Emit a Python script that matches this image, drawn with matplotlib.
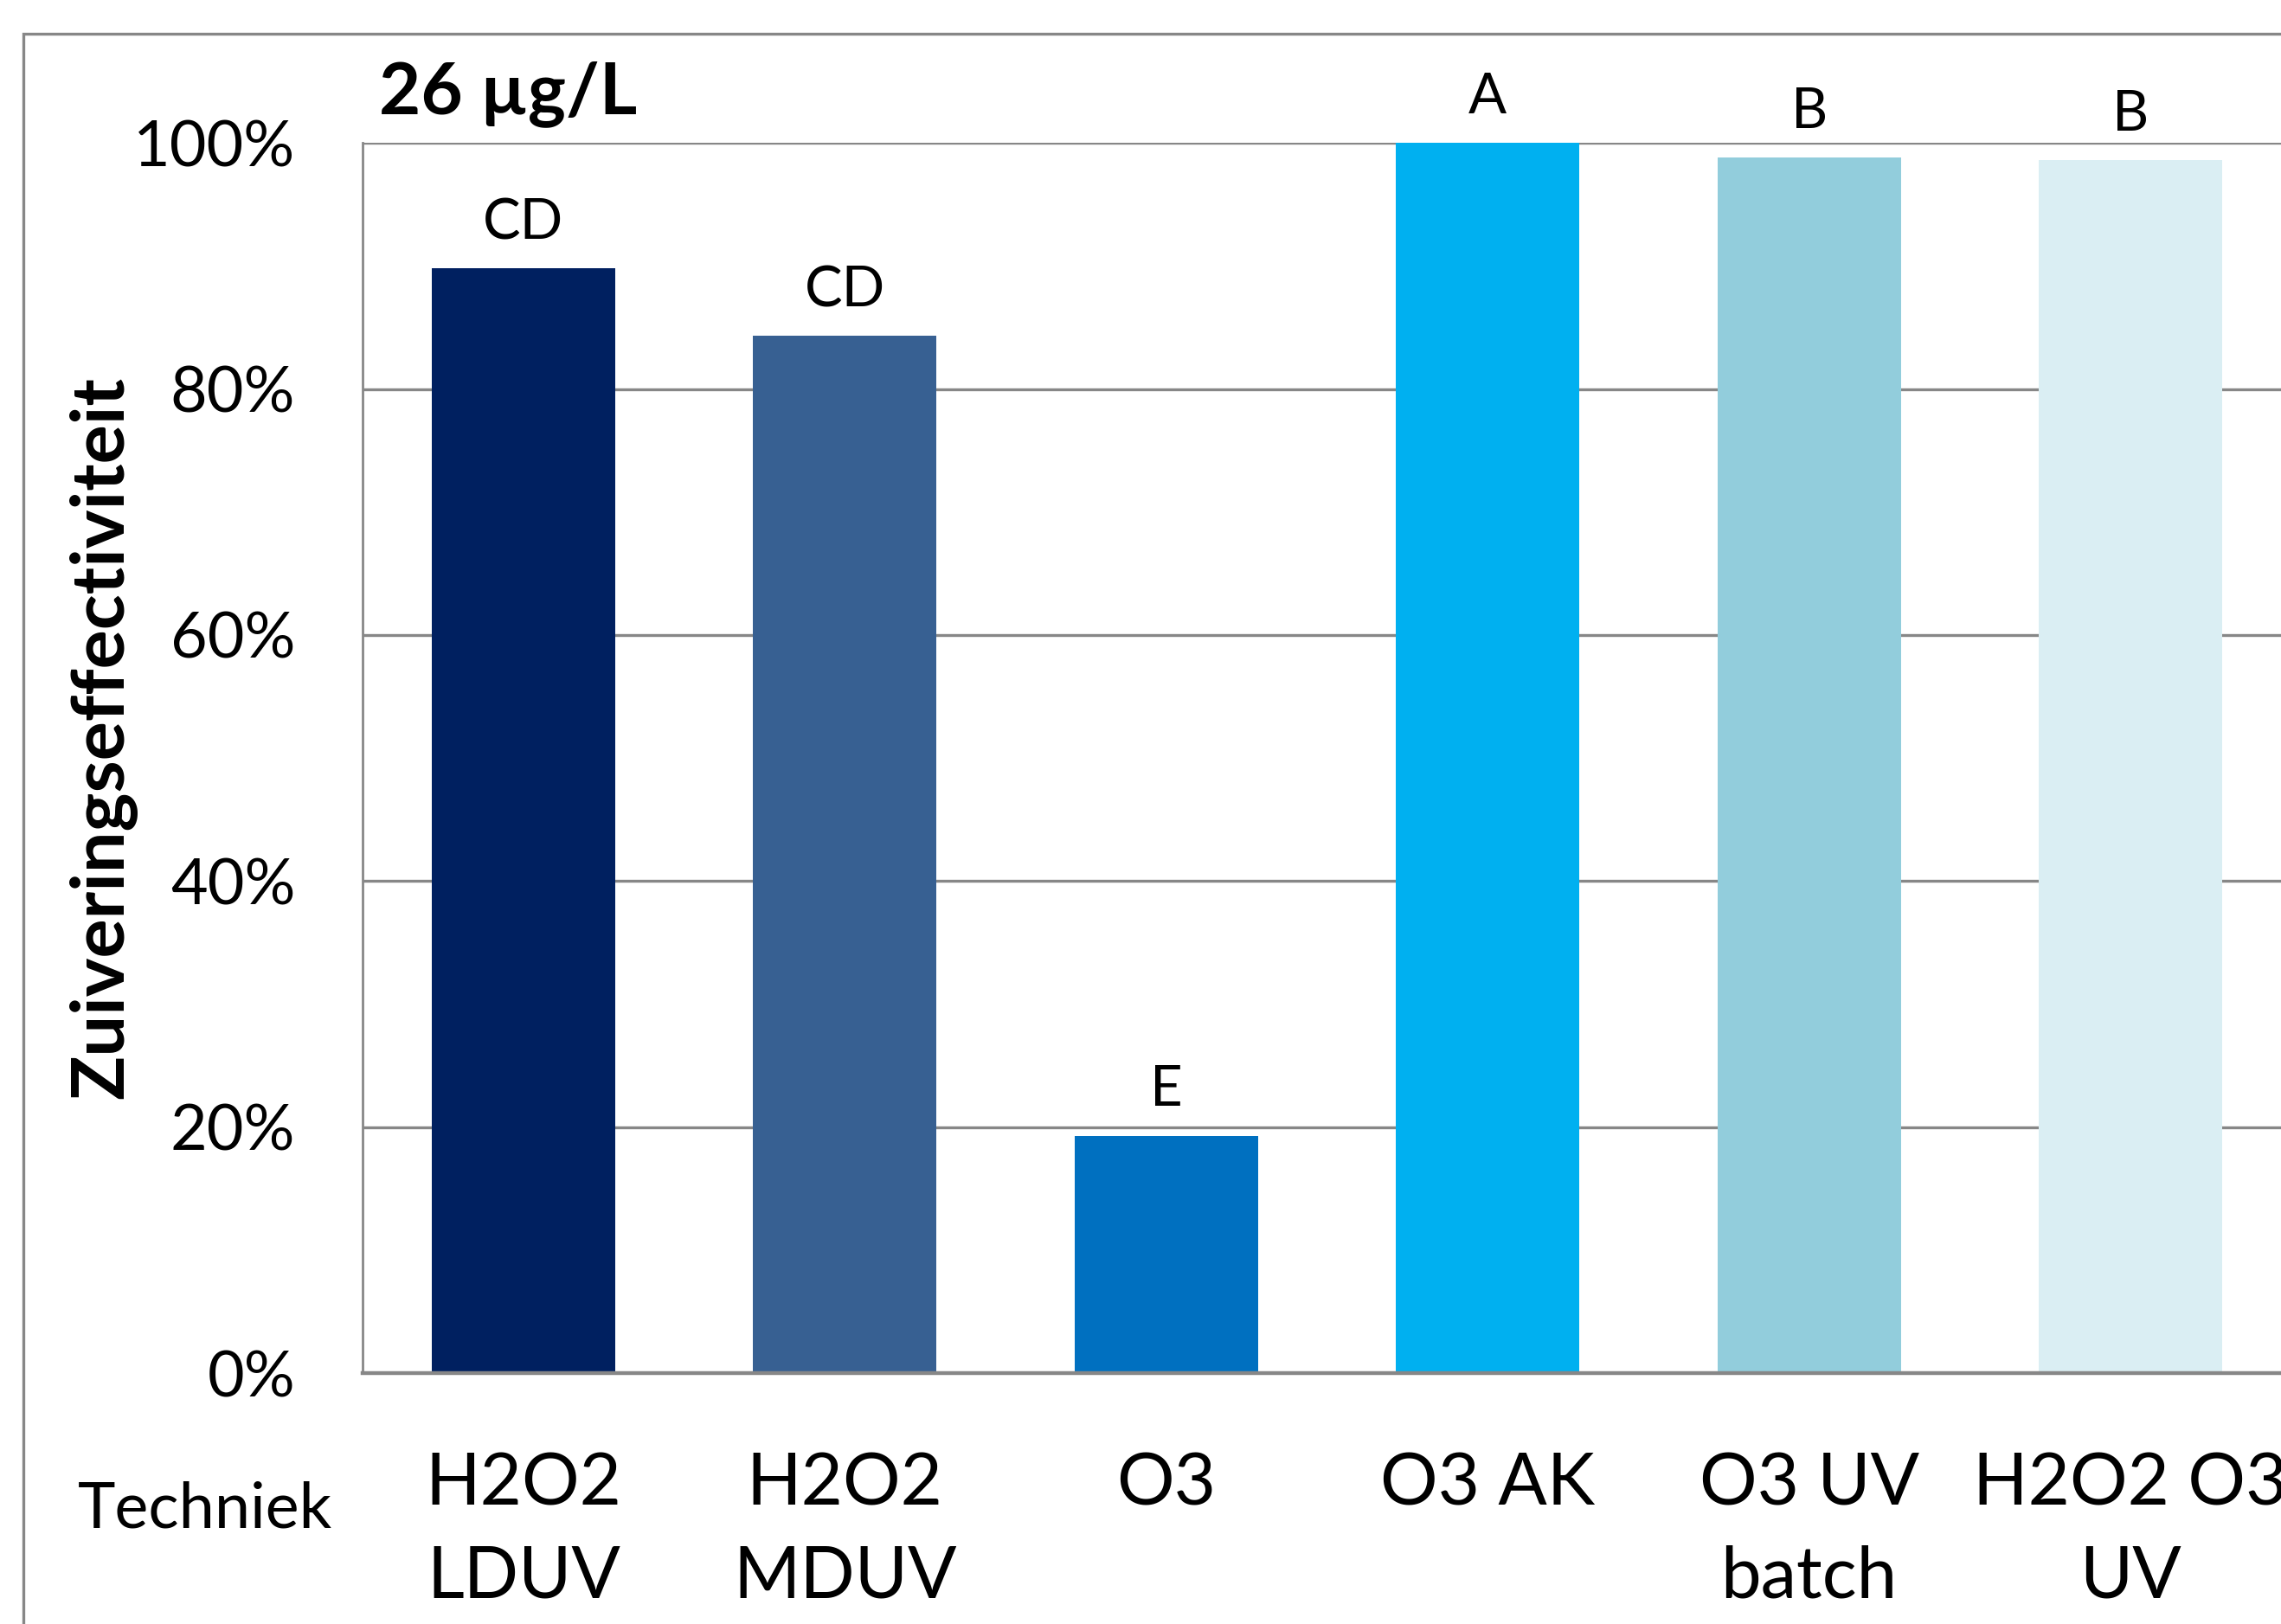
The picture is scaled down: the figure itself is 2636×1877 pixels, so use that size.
import matplotlib.pyplot as plt
from matplotlib.patches import Rectangle
from matplotlib.ticker import PercentFormatter

plt.rcParams['font.family'] = ['Lato', 'DejaVu Sans']

# Data
technieken = ['H2O2\nLDUV', 'H2O2\nMDUV', 'O3', 'O3 AK', 'O3 UV\nbatch', 'H2O2 O3\nUV']
effectiviteit = [0.898, 0.843, 0.193, 1.000, 0.988, 0.986]
groepen = ['CD', 'CD', 'E', 'A', 'B', 'B']
kleuren = ['#002060', '#376092', '#0070C0', '#00B0F0', '#92CDDC', '#DAEEF3']

grid_col = '#878787'

fig = plt.figure(figsize=(13.18, 9.385), dpi=200)
ax = fig.add_axes([0.159, 0.1545, 0.8455, 0.7575])

x = range(len(technieken))
ax.bar(x, effectiviteit, width=0.57, color=kleuren, zorder=3)

# significance letters above bars
for xi, v, g in zip(x, effectiviteit, groepen):
    ax.text(xi, v + 0.037, g, ha='center', va='center', fontsize=23.5)

ax.set_xlim(-0.5, len(technieken) - 0.5)
ax.set_ylim(0, 1.0)
ax.set_yticks([0, 0.2, 0.4, 0.6, 0.8, 1.0])
ax.yaxis.set_major_formatter(PercentFormatter(1.0, decimals=0))
ax.set_xticks(list(x))
ax.set_xticklabels(technieken, fontsize=30, linespacing=1.5)
ax.tick_params(axis='y', length=0, pad=28, labelsize=26.5)
ax.tick_params(axis='x', length=0, pad=33)

ax.grid(axis='y', color=grid_col, linewidth=1.2, zorder=0)
ax.set_axisbelow(True)
for side in ['top', 'right']:
    ax.spines[side].set_visible(False)
ax.spines['left'].set_color(grid_col)
ax.spines['left'].set_linewidth(1.0)
ax.spines['bottom'].set_color(grid_col)
ax.spines['bottom'].set_linewidth(1.6)
ax.spines['bottom'].set_zorder(4)

# y label and texts outside axes
fig.text(0.0447, 0.5456, 'Zuiveringseffectiviteit', rotation=90, ha='center', va='center',
         fontsize=30.5, fontweight='bold')
fig.text(0.166, 0.942, '26 µg/L', ha='left', va='center', fontsize=30, fontweight='bold')
fig.text(0.090, 0.0703, 'Techniek', ha='center', va='center', fontsize=26.5)

# outer chart frame (cropped at right and bottom)
fig.patches.append(Rectangle((0.0102, -0.05), 1.1, 1.05 - 0.021, transform=fig.transFigure,
                             fill=False, edgecolor=grid_col, linewidth=1.2))

fig.savefig('out.png', dpi=200)
